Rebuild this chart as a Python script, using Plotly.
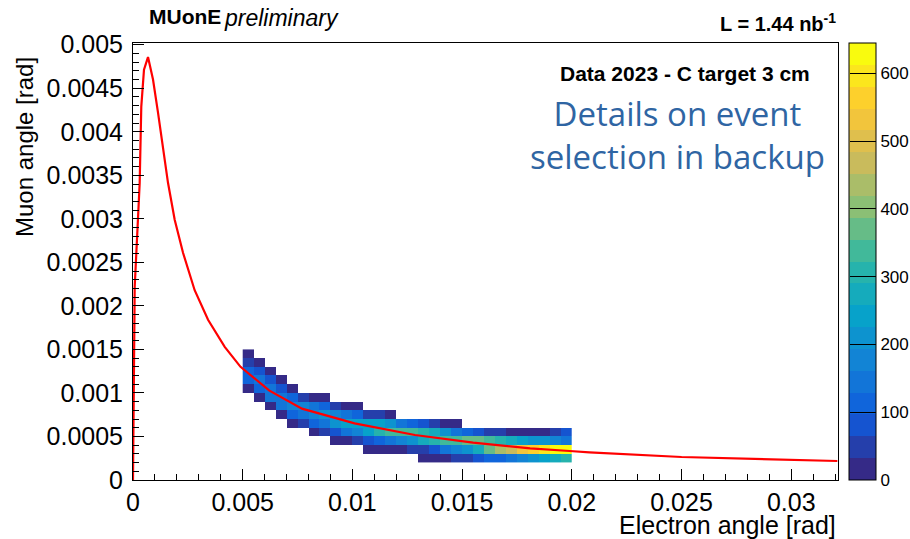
import numpy as np
import plotly.graph_objects as go

# theory curve (muon angle vs electron angle)
curve_x = [0.0, 0.0000456, 0.0000775, 0.000196, 0.000305, 0.000378, 0.000501, 0.000684,
           0.000912, 0.00114, 0.001367, 0.001595, 0.0019, 0.00228, 0.00281, 0.00342,
           0.00418, 0.0049, 0.0062, 0.0077, 0.0101, 0.01285, 0.0155, 0.0181, 0.0199,
           0.0208, 0.025, 0.03, 0.0321]
curve_y = [0.0, 0.00126, 0.00222, 0.00284, 0.003414, 0.00429, 0.004713, 0.004858,
           0.0046, 0.00422, 0.00379, 0.003414, 0.00299, 0.00261, 0.00218, 0.00184,
           0.00153, 0.0013, 0.00103, 0.00082, 0.00065, 0.000517, 0.00043, 0.000364, 0.000333,
           0.000318, 0.000264, 0.00023, 0.000218]

# 2D histogram: x bins of 0.0005 from 0.005 to 0.02, y bins of 0.0001 from 0.0002 to 0.0015
x_edges = [0.005, 0.0055, 0.006, 0.0065, 0.007, 0.0075, 0.008, 0.0085, 0.009, 0.0095,
           0.01, 0.0105, 0.011, 0.0115, 0.012, 0.0125, 0.013, 0.0135, 0.014, 0.0145,
           0.015, 0.0155, 0.016, 0.0165, 0.017, 0.0175, 0.018, 0.0185, 0.019, 0.0195, 0.02]
y_edges = [0.0002, 0.0003, 0.0004, 0.0005, 0.0006, 0.0007, 0.0008, 0.0009, 0.001,
           0.0011, 0.0012, 0.0013, 0.0014, 0.0015]

# per x column: index of lowest filled y bin, then counts going up
col_first_bin = [8, 7, 6, 5, 4, 4, 3, 3, 2, 2, 2, 1, 1, 1, 1, 1,
                 0, 0, 0, 0, 0, 0, 0, 0, 0, 0, 0, 0, 0, 0]
col_counts = [
    [30, 100, 110, 60, 15],
    [30, 120, 130, 80, 25],
    [30, 130, 150, 90, 20],
    [30, 140, 160, 90, 20],
    [20, 120, 170, 110, 20],
    [40, 160, 180, 60],
    [20, 110, 190, 150, 30],
    [40, 150, 200, 110, 15],
    [20, 90, 200, 180, 40],
    [30, 130, 230, 140, 20],
    [40, 180, 250, 100, 10],
    [10, 70, 240, 250, 50],
    [20, 110, 300, 240, 40],
    [30, 150, 330, 200, 30],
    [30, 180, 340, 160],
    [40, 220, 330, 120],
    [10, 60, 260, 310, 80],
    [20, 90, 300, 260, 50],
    [30, 130, 330, 200, 30],
    [40, 170, 350, 150, 20],
    [60, 220, 370, 110],
    [80, 290, 360, 80],
    [100, 360, 330, 60],
    [120, 420, 300, 40],
    [140, 480, 270, 30],
    [170, 530, 240, 30],
    [200, 560, 220, 30],
    [240, 600, 200, 30],
    [280, 630, 180, 40],
    [320, 640, 160, 80],
]

z = [[None] * (len(x_edges) - 1) for _ in range(len(y_edges) - 1)]
for ci, (b0, cnts) in enumerate(zip(col_first_bin, col_counts)):
    for k, c in enumerate(cnts):
        z[b0 + k][ci] = c

# ROOT kBird palette, 20 contour levels
bird_r = [0.2082, 0.0592, 0.0780, 0.0232, 0.1802, 0.5301, 0.8186, 0.9956, 0.9764]
bird_g = [0.1664, 0.3599, 0.5041, 0.6419, 0.7178, 0.7492, 0.7328, 0.7862, 0.9832]
bird_b = [0.5293, 0.8684, 0.8385, 0.7914, 0.6425, 0.4662, 0.3499, 0.1968, 0.0539]
stops = np.linspace(0, 1, 9)
nlev = 20
cscale = []
for i in range(nlev):
    t = i / (nlev - 1)
    col = 'rgb(%d,%d,%d)' % tuple(int(round(255 * np.interp(t, stops, c))) for c in (bird_r, bird_g, bird_b))
    cscale.append([i / nlev, col])
    cscale.append([(i + 1) / nlev, col])

ZMAX = 645

fig = go.Figure()
fig.add_trace(go.Heatmap(
    x=x_edges, y=y_edges, z=z,
    zmin=0, zmax=ZMAX, colorscale=cscale, hoverongaps=False,
    colorbar=dict(
        x=1.0156, xanchor='left', xpad=0, y=0.5, yanchor='middle', len=1, ypad=0,
        thickness=27, outlinecolor='black', outlinewidth=1,
        tickvals=[0, 100, 200, 300, 400, 500, 600], ticks='inside', ticklen=26,
        tickcolor='black', tickfont=dict(family='Liberation Sans', size=17, color='black'),
    ),
))
fig.add_trace(go.Scatter(
    x=curve_x, y=curve_y, mode='lines',
    line=dict(color='rgb(255,0,0)', width=2.2), hoverinfo='skip', showlegend=False,
))

tickfont = dict(family='Liberation Sans', size=25, color='black')
titlefont = dict(family='Liberation Sans', size=25, color='black')
fig.update_xaxes(
    range=[0, 0.03213], showgrid=False, zeroline=False, showline=True, linecolor='black',
    linewidth=1, mirror=True, ticks='inside', ticklen=11, tickcolor='black',
    dtick=0.005, tick0=0, tickformat='~g', tickfont=tickfont, ticklabelstandoff=0,
    minor=dict(ticks='inside', ticklen=6, dtick=0.001, tickcolor='black'),
)
fig.update_yaxes(
    range=[0, 0.00502], showgrid=False, zeroline=False, showline=True, linecolor='black',
    linewidth=1, mirror=True, ticks='inside', ticklen=11, tickcolor='black',
    dtick=0.0005, tick0=0, tickformat='~g', tickfont=tickfont, ticklabelstandoff=4,
    minor=dict(ticks='inside', ticklen=6, dtick=0.0001, tickcolor='black'),
)

fig.update_layout(
    width=910, height=539,
    margin=dict(l=133, r=72, t=43, b=59, autoexpand=False),
    paper_bgcolor='white', plot_bgcolor='white',
    showlegend=False,
    annotations=[
        dict(text='Electron angle [rad]', xref='paper', yref='paper', x=1.0, y=-0.102,
             xanchor='right', yanchor='middle', showarrow=False, font=titlefont),
        dict(text='Muon angle [rad]', xref='paper', yref='paper', x=-0.1546, y=0.762,
             xanchor='center', yanchor='middle', textangle=-90, showarrow=False,
             font=dict(family='Liberation Sans', size=24, color='black')),
        dict(text='<b>MUonE</b>', xref='paper', yref='paper', x=0.0199, y=1.0595,
             xanchor='left', yanchor='middle', showarrow=False,
             font=dict(family='Liberation Sans', size=21, color='black')),
        dict(text='<i>preliminary</i>', xref='paper', yref='paper', x=0.1262, y=1.057,
             xanchor='left', yanchor='middle', showarrow=False,
             font=dict(family='Liberation Sans', size=23, color='black')),
        dict(text='<b>L = 1.44 nb<sup>-1</sup></b>', xref='paper', yref='paper', x=1.0, y=1.0458,
             xanchor='right', yanchor='middle', showarrow=False,
             font=dict(family='Liberation Sans', size=20, color='black')),
        dict(text='<b>Data 2023 - C target 3 cm</b>', xref='paper', yref='paper', x=0.963, y=0.931,
             xanchor='right', yanchor='middle', showarrow=False,
             font=dict(family='Liberation Sans', size=21, color='black')),
        dict(text='Details on event<br>selection in backup', xref='paper', yref='paper',
             x=0.773, y=0.789, xanchor='center', yanchor='middle', showarrow=False,
             font=dict(family='Open Sans', size=33, color='rgb(47,101,163)')),
    ],
)

fig.write_html('out.html', config={'displayModeBar': False},
               post_script='document.body.style.margin="0";')
